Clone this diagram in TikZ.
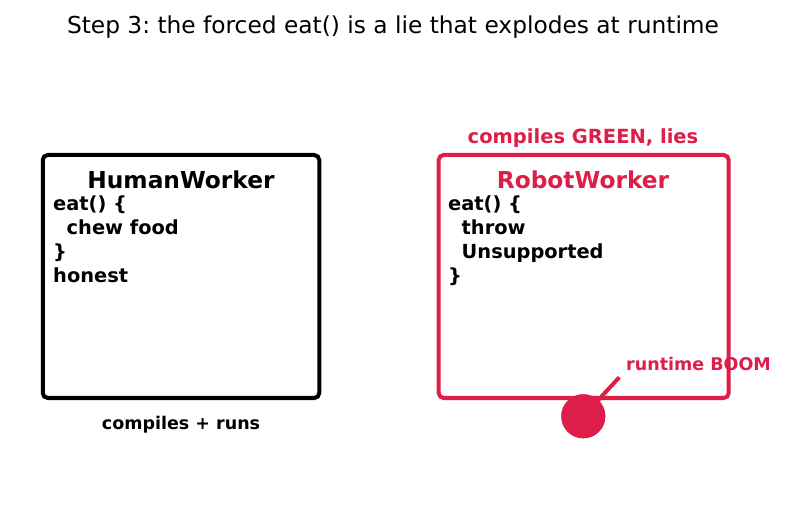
\documentclass[tikz,border=0pt]{standalone}
\usepackage{fontspec}
\setmainfont{DejaVu Sans}
\usetikzlibrary{positioning}
\definecolor{boomred}{RGB}{220, 30, 72}
\newcommand{\ind}{\hspace*{13.5pt}}
\frenchspacing

\begin{document}
\begin{tikzpicture}[
    x=1pt, y=-1pt,
    workerbox/.style={rectangle, rounded corners=5pt, draw, line width=4pt, minimum height=243pt, inner sep=0pt},
    boxtitle/.style={anchor=base, inner sep=0pt, font=\fontsize{23.3}{27}\selectfont\bfseries},
    codetext/.style={anchor=north west, inner sep=0pt, align=left, font=\fontsize{19.4}{24}\selectfont\bfseries},
    note/.style={anchor=base, inner sep=0pt, font=\fontsize{17.5}{21}\selectfont\bfseries},
    spark/.style={line width=4pt, color=boomred}
]
\useasboundingbox (0,0) rectangle (787,510);

\node[anchor=base, inner sep=0pt, font=\fontsize{23.3}{27}\selectfont] (title) at (393,33.5) {Step 3: the forced eat() is a lie that explodes at runtime};

% honest worker
\node[workerbox, minimum width=276.5pt] (human) at (181,276.5) {};
\node[boxtitle] (humantitle) at (181,188.5) {HumanWorker};
\node[codetext] (humancode) at (53,196) {eat() \{\\\ind chew food\\\}\\honest};
\node[note] (humannote) at (181,429.5) {compiles + runs};

% lying worker
\node[workerbox, draw=boomred, minimum width=290pt] (robot) at (583.7,276.5) {};
\node[boxtitle, text=boomred] (robottitle) at (583,188.5) {RobotWorker};
\node[codetext] (robotcode) at (448,196) {eat() \{\\\ind throw\\\ind Unsupported\\\}};
\node[note, text=boomred, font=\fontsize{19.5}{23}\selectfont\bfseries] (robotnote) at (583,143.5) {compiles GREEN, lies};

% boom
\coordinate (flash) at (619.3,377.3);
\node[circle, fill=boomred, minimum size=44pt, inner sep=0pt] (boom) at (583.3,416.3) {};
\draw[spark] (boom.center) -- (flash);
\node[circle, fill=boomred, minimum size=44pt, inner sep=0pt] at (boom) {};
\node[note, anchor=base west, text=boomred] (boomnote) at (626,371) {runtime BOOM};

\end{tikzpicture}
\end{document}
